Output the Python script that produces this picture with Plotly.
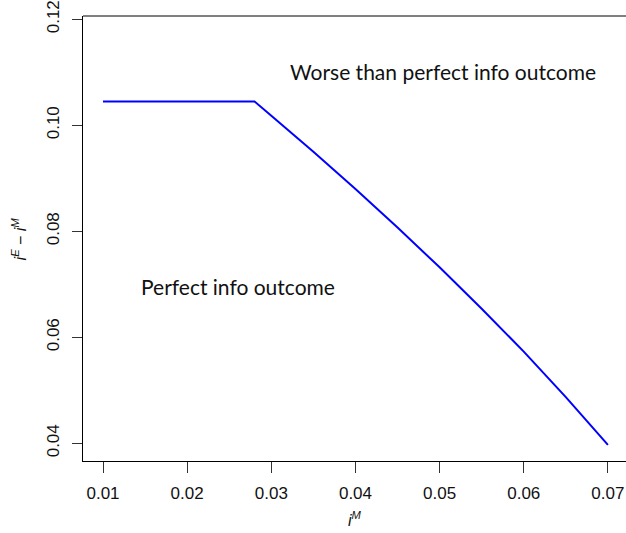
import plotly.graph_objects as go

# data
i_M = [0.010, 0.016, 0.028, 0.030, 0.035, 0.040, 0.045, 0.050, 0.055, 0.060, 0.065, 0.070]
spread = [0.1045, 0.1045, 0.1045, 0.1018, 0.0950, 0.0880, 0.0807, 0.0732, 0.0654, 0.0573, 0.0487, 0.0397]
x_ticks = [0.01, 0.02, 0.03, 0.04, 0.05, 0.06, 0.07]
y_ticks = [0.04, 0.06, 0.08, 0.10, 0.12]
region_labels = ["Perfect info outcome", "Worse than perfect info outcome"]
region_x = [0.02607, 0.05036]
region_y = [0.0696, 0.1102]

fig = go.Figure()
fig.add_trace(go.Scatter(x=i_M, y=spread, mode="lines",
                         line=dict(color="#0000FF", width=2), showlegend=False))

for t, x, y in zip(region_labels, region_x, region_y):
    fig.add_annotation(x=x, y=y, text=t, showarrow=False,
                       font=dict(family="Lato", size=21, color="#111111"),
                       xanchor="center", yanchor="middle")

tickfont = dict(family="Liberation Sans, Arial", size=17, color="#111111")
fig.update_layout(
    width=626, height=533,
    margin=dict(l=83, r=0, t=16, b=72, autoexpand=False),
    plot_bgcolor="white", paper_bgcolor="white",
    xaxis=dict(range=[0.00762, 0.07215], tickvals=x_ticks,
               ticktext=[f"{v:.2f}" for v in x_ticks],
               showgrid=False, zeroline=False, showline=True,
               linecolor="black", linewidth=1, ticks="outside", ticklen=11,
               tickcolor="#333333", tickwidth=1, tickfont=tickfont,
               ticklabelstandoff=6, automargin=False),
    yaxis=dict(range=[0.03666, 0.12062], tickvals=y_ticks,
               ticktext=[f"{v:.2f}" for v in y_ticks],
               showgrid=False, zeroline=False, showline=True,
               linecolor="black", linewidth=1, ticks="outside", ticklen=10,
               tickcolor="#333333", tickwidth=1, tickfont=tickfont,
               tickangle=-90, ticklabelstandoff=6, automargin=False),
)

# top border of the box
fig.add_shape(type="line", xref="paper", yref="paper", x0=0, x1=1, y0=1, y1=1,
              line=dict(color="black", width=1))

# axis titles
fig.add_annotation(xref="paper", yref="paper", x=0.5, y=-0.13,
                   text="<i>i<sup>M</sup></i>", showarrow=False,
                   font=dict(family="Liberation Sans, Arial", size=16, color="#111111"),
                   xanchor="center", yanchor="middle")
fig.add_annotation(xref="paper", yref="paper", x=-0.118, y=0.5,
                   text="<i>i<sup>E</sup></i> − <i>i<sup>M</sup></i>", showarrow=False,
                   textangle=-90,
                   font=dict(family="Liberation Sans, Arial", size=16, color="#111111"),
                   xanchor="center", yanchor="middle")

fig.write_html("out.html")
